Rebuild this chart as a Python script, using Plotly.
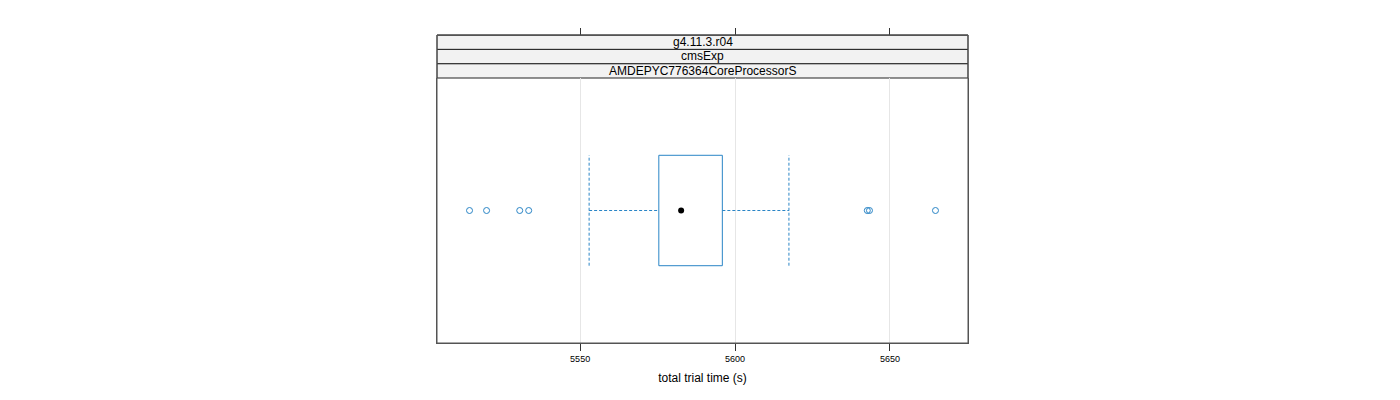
import plotly.graph_objects as go

# summary of total trial time (s)
q1 = 5575.4
median = 5582.6
q3 = 5595.9
lower_whisker = 5552.9
upper_whisker = 5617.4
outliers = [5514.3, 5519.8, 5530.5, 5533.4, 5642.7, 5643.4, 5664.7]

strip_labels = ['g4.11.3.r04', 'cmsExp', 'AMDEPYC776364CoreProcessorS']
x_ticks = [5550, 5600, 5650]

blue = '#2a85c6'
pos = 1
half = 0.25

fig = go.Figure()

# box
fig.add_trace(go.Scatter(
    x=[q1, q3, q3, q1, q1],
    y=[pos - half, pos - half, pos + half, pos + half, pos - half],
    mode='lines', line=dict(color=blue, width=1), hoverinfo='skip'))

# whiskers (dashed)
for a, b in [(lower_whisker, q1), (q3, upper_whisker)]:
    fig.add_trace(go.Scatter(
        x=[a, b], y=[pos, pos], mode='lines',
        line=dict(color=blue, width=1, dash='3px,2px'), hoverinfo='skip'))
for w in [lower_whisker, upper_whisker]:
    fig.add_trace(go.Scatter(
        x=[w, w], y=[pos - half, pos + half], mode='lines',
        line=dict(color=blue, width=1, dash='3px,2px'), hoverinfo='skip'))

# median dot
fig.add_trace(go.Scatter(
    x=[median], y=[pos], mode='markers',
    marker=dict(color='black', size=6), hoverinfo='skip'))

# outliers
fig.add_trace(go.Scatter(
    x=outliers, y=[pos] * len(outliers), mode='markers',
    marker=dict(symbol='circle-open', color=blue, size=6, line=dict(width=1)),
    hoverinfo='skip'))

# invisible trace so the top axis gets drawn
fig.add_trace(go.Scatter(x=[median], y=[pos], xaxis='x2', mode='markers',
                         marker=dict(opacity=0), hoverinfo='skip'))

# strips above the panel
panel_top = 265 / 308
strip_h = (1 - panel_top) / 3
shapes = []
annotations = []
for i, lab in enumerate(reversed(strip_labels)):
    y0 = panel_top + i * strip_h
    y1 = y0 + strip_h
    shapes.append(dict(type='rect', xref='paper', yref='paper',
                       x0=0, x1=1, y0=y0, y1=y1,
                       fillcolor='#f2f2f2', line=dict(color='#222222', width=1),
                       layer='below'))
    annotations.append(dict(text=lab, xref='paper', yref='paper',
                            x=0.5, y=(y0 + y1) / 2, showarrow=False,
                            yanchor='middle', xanchor='center',
                            font=dict(size=12, color='black')))
shapes.append(dict(type='rect', xref='paper', yref='paper',
                   x0=0, x1=1, y0=0, y1=1,
                   line=dict(color='#555555', width=1)))

fig.update_layout(
    width=1400, height=400,
    margin=dict(l=429, r=440, t=27, b=65),
    paper_bgcolor='white', plot_bgcolor='white',
    showlegend=False,
    font=dict(family='Liberation Sans, Arial, sans-serif', color='black'),
    shapes=shapes, annotations=annotations,
    xaxis=dict(
        range=[5503.8, 5675.2], tickvals=x_ticks,
        ticks='outside', ticklen=7, tickcolor='#333333',
        tickfont=dict(size=9), showline=True, linecolor='#555555',
        showgrid=True, gridcolor='#e6e6e6', zeroline=False,
        title=dict(text='total trial time (s)', font=dict(size=12), standoff=10)),
    xaxis2=dict(
        matches='x', overlaying='x', side='top', anchor='free', position=1,
        tickvals=x_ticks, ticks='outside', ticklen=7, tickcolor='#333333',
        showticklabels=False, showline=True, linecolor='#555555',
        showgrid=False, zeroline=False),
    yaxis=dict(
        domain=[0, panel_top],
        range=[0.4, 1.6], showticklabels=False, ticks='',
        showline=True, linecolor='#555555', mirror=True,
        showgrid=False, zeroline=False),
)

fig.write_html('out.html')
